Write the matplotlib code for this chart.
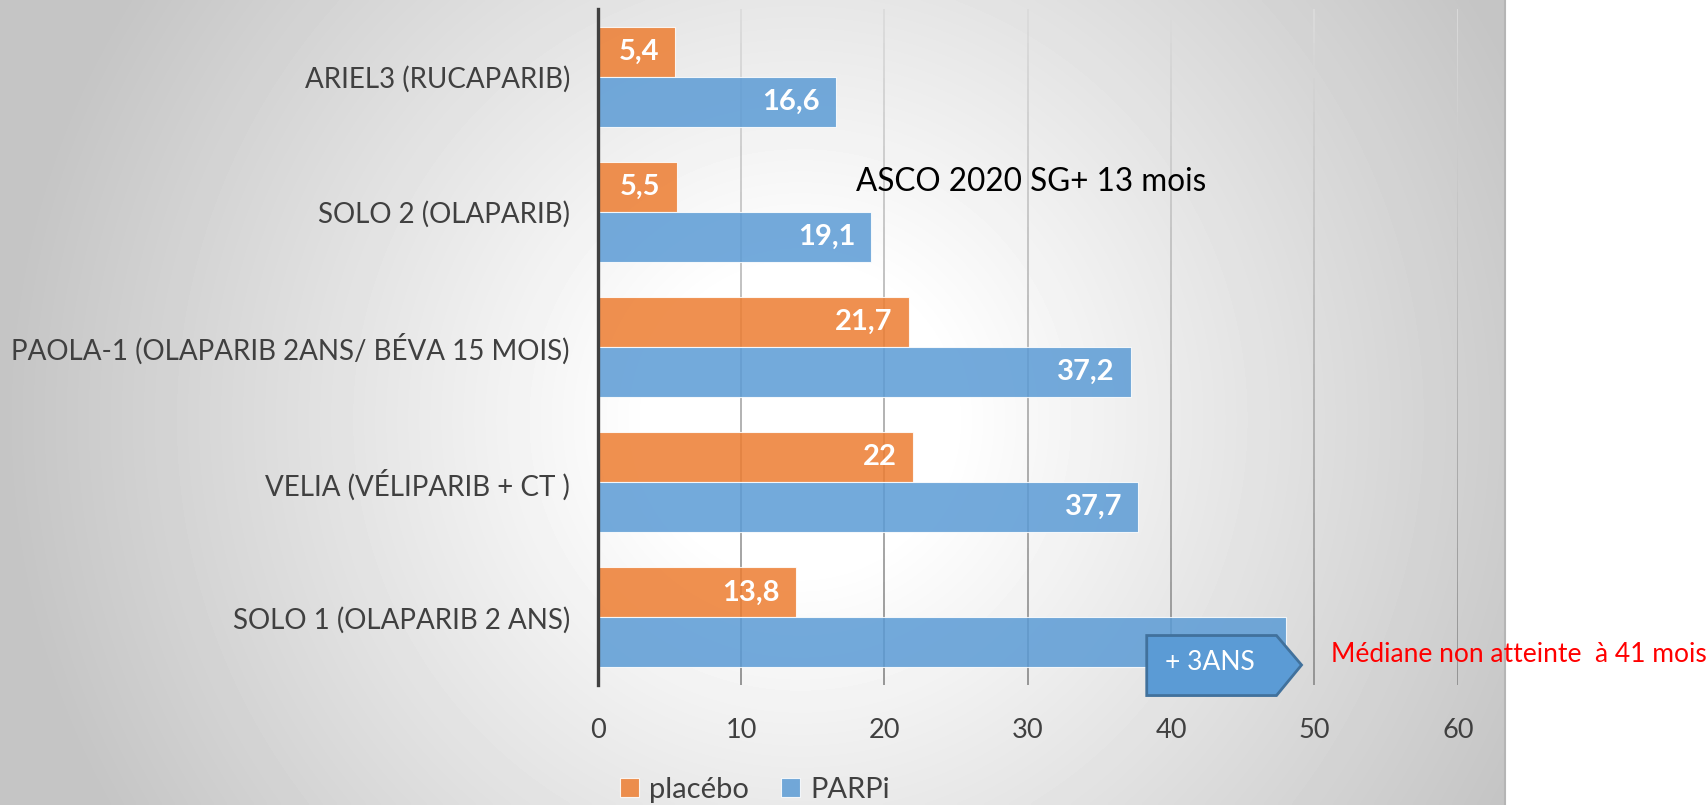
import numpy as np
import matplotlib
matplotlib.use('Agg')
import matplotlib.pyplot as plt
from matplotlib.patches import Polygon
from matplotlib.lines import Line2D
from matplotlib.collections import LineCollection

plt.rcParams['font.family'] = ['Lato', 'DejaVu Sans']

# donnees
categories = ['ARIEL3 (RUCAPARIB)', 'SOLO 2 (OLAPARIB)',
              'PAOLA-1 (OLAPARIB 2ANS/ BÉVA 15 MOIS)',
              'VELIA (VÉLIPARIB + CT )', 'SOLO 1 (OLAPARIB 2 ANS)']
placebo = [5.4, 5.5, 21.7, 22, 13.8]
parpi = [16.6, 19.1, 37.2, 37.7, 48]
series_names = ['placébo', 'PARPi']
xticks = [0, 10, 20, 30, 40, 50, 60]

W, H = 1707, 805
fig = plt.figure(figsize=(W / 100, H / 100), dpi=100)

# fond en degrade radial (zone grise du graphique)
gx = 1505
bg = fig.add_axes([0, 0, gx / W, 1])
yy, xx = np.mgrid[0:H:4, 0:gx:4]
r = np.hypot(xx - 800, yy - 420)
shade = 1 - 0.23 * np.clip((r - 150) / 650, 0, 1)
bg.imshow(shade, cmap='gray', vmin=0, vmax=1, extent=[0, gx, H, 0],
          aspect='auto', interpolation='bilinear')
bg.axis('off')
fig.add_artist(Line2D([gx / W, gx / W], [0, 1], color='#b5b5b5', lw=1.5))

ax = fig.add_axes([597.7 / W, 1 - 685 / H, (1457.8 - 597.7) / W, (685 - 9) / H])
ax.set_facecolor('none')
ax.set_xlim(0, 60)
ax.set_ylim(4.5, -0.5)

# grille verticale, plus claire en haut qu'en bas
ys = np.linspace(-0.5, 4.5, 60)
segs, cols = [], []
for xt in xticks[1:]:
    for k in range(len(ys) - 1):
        segs.append([(xt, ys[k]), (xt, ys[k + 1])])
        g = 0.86 - 0.30 * (k / (len(ys) - 2))
        cols.append((g, g, g))
ax.add_collection(LineCollection(segs, colors=cols, lw=1.3, zorder=1))

y = np.arange(len(categories))
h = 0.37
b1 = ax.barh(y - h / 2, placebo, height=h, color='#ED7D31', alpha=0.85,
             edgecolor='white', linewidth=0.8, zorder=3, label=series_names[0])
b2 = ax.barh(y + h / 2, parpi, height=h, color='#5B9BD5', alpha=0.85,
             edgecolor='white', linewidth=0.8, zorder=3, label=series_names[1])

def fmt(v):
    return f'{v:g}'.replace('.', ',')

for i, v in enumerate(placebo):
    ax.annotate(fmt(v), (v, i - h / 2), xytext=(-16, 0), textcoords='offset pixels',
                ha='right', va='center', color='white', fontsize=21,
                fontweight='bold', zorder=5)
for i, v in enumerate(parpi[:-1]):  # SOLO 1 : remplace par la fleche
    ax.annotate(fmt(v), (v, i + h / 2), xytext=(-16, 0), textcoords='offset pixels',
                ha='right', va='center', color='white', fontsize=21,
                fontweight='bold', zorder=5)

ax.set_xticks(xticks)
ax.set_yticks(y, categories)
for s in ['top', 'right', 'bottom']:
    ax.spines[s].set_visible(False)
ax.spines['left'].set_color('#404040')
ax.spines['left'].set_linewidth(2.4)
ax.spines['left'].set_zorder(4)
ax.tick_params(axis='both', length=0, labelcolor='#404040')
ax.tick_params(axis='x', labelsize=19.5, pad=24)
ax.tick_params(axis='y', labelsize=20, pad=20)

# fleche "+ 3ANS"
box = Polygon([(38.3, 4.134), (47.35, 4.134), (49.1, 4.352), (47.35, 4.578), (38.3, 4.578)],
              closed=True, facecolor='#5B9BD5', edgecolor='#41719C', lw=2,
              zorder=6, clip_on=False)
ax.add_patch(box)
ax.text(42.7, 4.33, '+ 3ANS', color='white', fontsize=19, ha='center', va='center',
        zorder=7, clip_on=False)

fig.text(856 / W, 1 - 182 / H, 'ASCO 2020 SG+ 13 mois', fontsize=22.7, color='black',
         ha='left', va='center')
fig.text(1331 / W, 1 - 654 / H, 'Médiane non atteinte  à 41 mois', fontsize=19,
         color='red', ha='left', va='center')

fig.legend(handles=[b1, b2], labels=series_names, loc='center',
           bbox_to_anchor=(755 / W, 1 - 790 / H), ncol=2, frameon=False,
           fontsize=21, handlelength=0.65, handleheight=0.65, handletextpad=0.35,
           columnspacing=1.1, labelcolor='#404040')

fig.savefig('out.png', dpi=100)
